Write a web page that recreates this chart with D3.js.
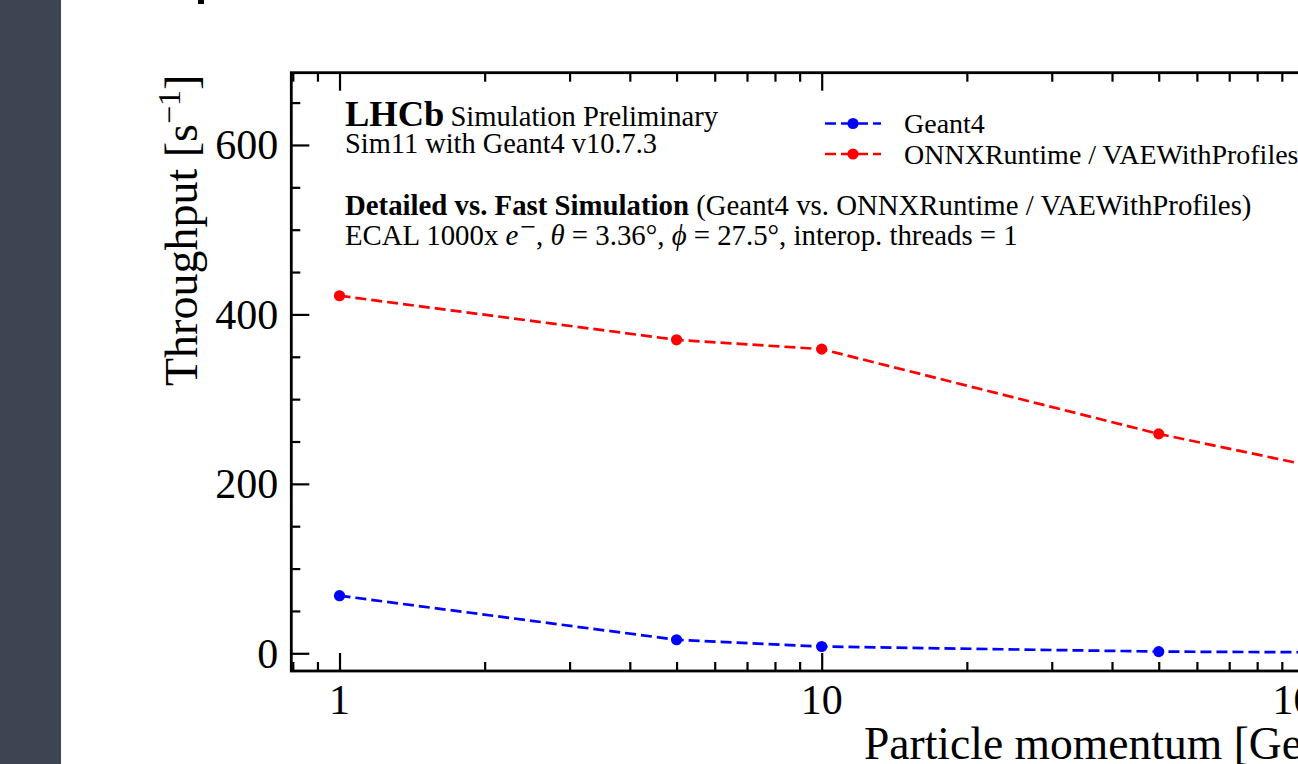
<!DOCTYPE html>
<html>
<head>
<meta charset="utf-8">
<script src="https://cdn.jsdelivr.net/npm/d3@7"></script>
<style>
  html, body { margin: 0; padding: 0; background: #fff; overflow: hidden; }
  svg { display: block; }
  text { font-family: "Liberation Serif", "Times New Roman", serif; fill: #000; }
</style>
</head>
<body>
<svg id="chart" width="1298" height="764"></svg>
<script>
// Particle momentum points [GeV]
const momenta = [1, 5, 10, 50, 100];
// Throughput [1/s] per momentum
const geant4 = [68, 16, 8, 2, 1.2];
const onnxVae = [422, 370, 359, 259, 223];
const seriesNames = ["Geant4", "ONNXRuntime / VAEWithProfiles"];
const yTickValues = [0, 200, 400, 600];
const xTickValues = [1, 10, 100];

const W = 1298, H = 764;
const svg = d3.select("#chart");

// dark side panel
svg.append("rect").attr("x", 0).attr("y", 0).attr("width", 61).attr("height", H).attr("fill", "#3d4452");
// clipped glyph of the page heading above the figure
svg.append("rect").attr("x", 198).attr("y", 0).attr("width", 6).attr("height", 4).attr("fill", "#000");

const plot = { left: 291.3, right: 1352.1, top: 72.7, bottom: 671 };

const x = d3.scaleLog().domain([Math.pow(10, -0.1), Math.pow(10, 2.1)]).range([plot.left, plot.right]);
const y = d3.scaleLinear().domain([-20.9, 685.3]).range([plot.bottom, plot.top]);

const MAJ = 18, MIN = 9;

// minor tick sets
const xMinor = [];
for (let dec = 0.1; dec <= 100; dec *= 10) {
  for (let k = 1; k <= 9; k++) {
    const v = +(k * dec).toPrecision(3);
    if (v >= x.domain()[0] && v <= x.domain()[1] && !xTickValues.includes(v)) xMinor.push(v);
  }
}
const yMinor = d3.range(50, 700, 50).filter(v => !yTickValues.includes(v) && v <= y.domain()[1]);

const g = svg.append("g");

// ticks on all visible sides, pointing into the frame
const xAxisB = d3.axisBottom(x).tickValues(xTickValues).tickSize(-MAJ).tickFormat("");
const xAxisBm = d3.axisBottom(x).tickValues(xMinor).tickSize(-MIN).tickFormat("");
const xAxisT = d3.axisTop(x).tickValues(xTickValues).tickSize(-MAJ).tickFormat("");
const xAxisTm = d3.axisTop(x).tickValues(xMinor).tickSize(-MIN).tickFormat("");
const yAxisL = d3.axisLeft(y).tickValues(yTickValues).tickSize(-MAJ).tickFormat("");
const yAxisLm = d3.axisLeft(y).tickValues(yMinor).tickSize(-MIN).tickFormat("");

function styleAxis(sel) {
  sel.select(".domain").remove();
  sel.selectAll(".tick line").attr("stroke", "#000").attr("stroke-width", 2.2);
}
g.append("g").attr("transform", `translate(0,${plot.bottom})`).call(xAxisB).call(styleAxis);
g.append("g").attr("transform", `translate(0,${plot.bottom})`).call(xAxisBm).call(styleAxis);
g.append("g").attr("transform", `translate(0,${plot.top})`).call(xAxisT).call(styleAxis);
g.append("g").attr("transform", `translate(0,${plot.top})`).call(xAxisTm).call(styleAxis);
g.append("g").attr("transform", `translate(${plot.left},0)`).call(yAxisL).call(styleAxis);
g.append("g").attr("transform", `translate(${plot.left},0)`).call(yAxisLm).call(styleAxis);

// frame
g.append("rect")
  .attr("x", plot.left).attr("y", plot.top)
  .attr("width", plot.right - plot.left).attr("height", plot.bottom - plot.top)
  .attr("fill", "none").attr("stroke", "#000").attr("stroke-width", 2.8);

// tick labels
g.selectAll(".ytl").data(yTickValues).join("text")
  .attr("x", plot.left - 13).attr("y", d => y(d) + 14.5)
  .attr("text-anchor", "end").attr("font-size", 42).text(d => d);
g.selectAll(".xtl").data(xTickValues).join("text")
  .attr("x", d => x(d)).attr("y", 714)
  .attr("text-anchor", "middle").attr("font-size", 42).text(d => d);

// axis titles
g.append("text").attr("x", plot.right - 2).attr("y", 759)
  .attr("text-anchor", "end").attr("font-size", 45.6).text("Particle momentum [GeV]");
const yl = g.append("text").attr("transform", `translate(197,${plot.top + 2}) rotate(-90)`)
  .attr("text-anchor", "end").attr("font-size", 46);
yl.append("tspan").text("Throughput [s");
yl.append("tspan").attr("font-size", 32).attr("dy", -17).text("\u22121");
yl.append("tspan").attr("dy", 17).text("]");

// series
const colors = ["#0000ff", "#ff0000"];
const series = [geant4, onnxVae];
const line = d3.line().x(d => x(d[0])).y(d => y(d[1]));
series.forEach((vals, i) => {
  const pts = momenta.map((m, j) => [m, vals[j]]);
  g.append("path").datum(pts).attr("d", line)
    .attr("fill", "none").attr("stroke", colors[i]).attr("stroke-width", 2.7)
    .attr("stroke-dasharray", "11,5");
  g.selectAll(null).data(pts).join("circle")
    .attr("cx", d => x(d[0])).attr("cy", d => y(d[1])).attr("r", 5.6).attr("fill", colors[i]);
});

// legend
const legY = [123.5, 154];
seriesNames.forEach((name, i) => {
  g.append("line").attr("x1", 825).attr("x2", 881).attr("y1", legY[i]).attr("y2", legY[i])
    .attr("stroke", colors[i]).attr("stroke-width", 2.7).attr("stroke-dasharray", "11,5");
  g.append("circle").attr("cx", 853).attr("cy", legY[i]).attr("r", 5.6).attr("fill", colors[i]);
  g.append("text").attr("x", 904).attr("y", legY[i] + 9.5).attr("font-size", 28).text(name);
});

// experiment labels
const t1 = g.append("text").attr("x", 345).attr("y", 126);
t1.append("tspan").attr("font-weight", "bold").attr("font-size", 36.5).text("LHCb");
t1.append("tspan").attr("font-size", 28.6).attr("dx", 6).text("Simulation Preliminary");
g.append("text").attr("x", 345).attr("y", 153).attr("font-size", 28.4).text("Sim11 with Geant4 v10.7.3");

const t3 = g.append("text").attr("x", 345).attr("y", 215).attr("font-size", 28.8);
t3.append("tspan").attr("font-weight", "bold").text("Detailed vs. Fast Simulation");
t3.append("tspan").text(" (Geant4 vs. ONNXRuntime / VAEWithProfiles)");

const t4 = g.append("text").attr("x", 345).attr("y", 245).attr("font-size", 28.8);
t4.append("tspan").text("ECAL 1000x ");
t4.append("tspan").attr("font-style", "italic").text("e");
t4.append("tspan").attr("font-size", 28).attr("dy", -9).attr("dx", 2).text("\u2212");
t4.append("tspan").attr("dy", 9).text(", ");
t4.append("tspan").attr("font-style", "italic").text("\u03b8");
t4.append("tspan").text(" = 3.36\u00b0, ");
t4.append("tspan").attr("font-style", "italic").text("\u03d5");
t4.append("tspan").text(" = 27.5\u00b0, interop. threads = 1");
</script>
</body>
</html>
